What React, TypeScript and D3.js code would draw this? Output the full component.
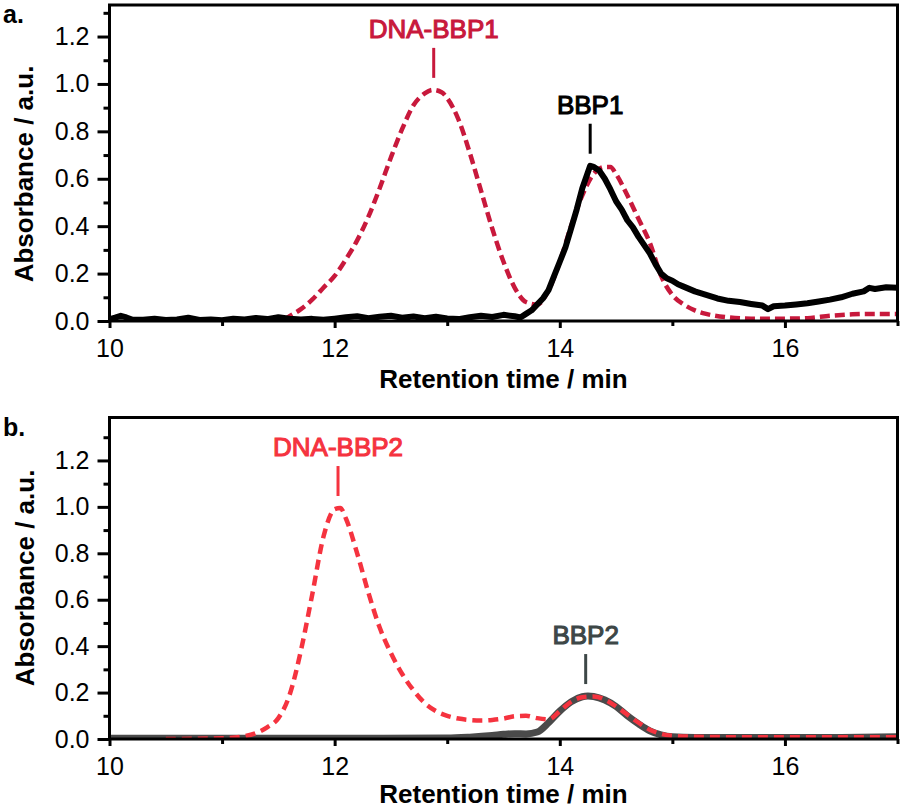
import React, { useRef, useEffect } from "react";
import * as d3 from "d3";

// ---- panel a: BBP1 (black, solid) and DNA-BBP1 (red, dashed)
const bbp1Time = [
  10.0, 10.05, 10.1, 10.15, 10.2, 10.3, 10.4, 10.5, 10.6, 10.7, 10.8, 10.9, 11.0, 11.1, 11.2, 11.3,
  11.4, 11.5, 11.6, 11.7, 11.8, 11.9, 12.0, 12.1, 12.2, 12.3, 12.4, 12.5, 12.6, 12.7, 12.8, 12.9,
  13.0, 13.1, 13.2, 13.3, 13.4, 13.5, 13.6, 13.65, 13.7, 13.75, 13.8, 13.85, 13.9, 13.95, 14.0,
  14.05, 14.1, 14.15, 14.2, 14.27, 14.3, 14.35, 14.4, 14.45, 14.5, 14.55, 14.6, 14.65, 14.7, 14.75,
  14.8, 14.85, 14.9, 14.95, 15.0, 15.05, 15.1, 15.2, 15.3, 15.4, 15.5, 15.6, 15.7, 15.8, 15.85,
  15.9, 16.0, 16.1, 16.2, 16.3, 16.4, 16.5, 16.6, 16.7, 16.75, 16.8, 16.9, 17.0,
];
const bbp1Abs = [
  0.008, 0.014, 0.022, 0.015, 0.006, 0.005, 0.01, 0.004, 0.006, 0.014, 0.004, 0.006, 0.003, 0.01,
  0.006, 0.013, 0.008, 0.016, 0.01, 0.006, 0.009, 0.005, 0.01, 0.016, 0.02, 0.012, 0.018, 0.022,
  0.014, 0.019, 0.012, 0.018, 0.011, 0.008, 0.016, 0.022, 0.017, 0.026, 0.02, 0.015, 0.03, 0.045,
  0.07, 0.095, 0.13, 0.19, 0.25, 0.31, 0.39, 0.47, 0.56, 0.655, 0.65, 0.635, 0.6, 0.555, 0.505,
  0.47, 0.425, 0.395, 0.355, 0.32, 0.285, 0.24, 0.2, 0.18, 0.17, 0.155, 0.145, 0.125, 0.11, 0.095,
  0.085, 0.08, 0.072, 0.065, 0.05, 0.062, 0.065, 0.07, 0.075, 0.082, 0.09, 0.1, 0.115, 0.125, 0.14,
  0.135, 0.142, 0.14,
];
const dnaBbp1Time = [
  11.55, 11.6, 11.7, 11.8, 11.9, 12.0, 12.1, 12.2, 12.3, 12.4, 12.5, 12.6, 12.7, 12.8, 12.87, 12.95,
  13.0, 13.1, 13.2, 13.3, 13.4, 13.5, 13.6, 13.7, 13.8, 13.9, 14.0, 14.1, 14.2, 14.3, 14.4, 14.45,
  14.5, 14.6, 14.7, 14.8, 14.9, 15.0, 15.1, 15.2, 15.3, 15.5, 15.7, 16.0, 16.2, 16.4, 16.6, 16.8, 17.0,
];
const dnaBbp1Abs = [
  0.005, 0.02, 0.05, 0.09, 0.14, 0.19, 0.26, 0.34, 0.44, 0.56, 0.69, 0.81, 0.91, 0.96, 0.975, 0.965,
  0.94, 0.85, 0.71, 0.55, 0.39, 0.25, 0.14, 0.08, 0.07, 0.13, 0.25, 0.4, 0.53, 0.62, 0.65, 0.65,
  0.62, 0.53, 0.43, 0.33, 0.19, 0.11, 0.07, 0.045, 0.03, 0.015, 0.01, 0.01, 0.012, 0.022, 0.028, 0.03,
  0.03,
];

// ---- panel b: BBP2 (grey, solid) and DNA-BBP2 (red, dashed)
const bbp2Time = [
  10.0, 11.0, 12.0, 13.0, 13.2, 13.4, 13.5, 13.6, 13.7, 13.8, 13.9, 14.0, 14.1, 14.2, 14.25, 14.3,
  14.4, 14.5, 14.6, 14.7, 14.8, 14.9, 15.0, 15.2, 16.0, 16.5, 17.0,
];
const bbp2Abs = [
  0.003, 0.003, 0.003, 0.004, 0.008, 0.015, 0.02, 0.023, 0.022, 0.03, 0.07, 0.12, 0.16, 0.182, 0.185,
  0.183, 0.168, 0.14, 0.1, 0.065, 0.035, 0.018, 0.01, 0.007, 0.006, 0.007, 0.01,
];
const dnaBbp2Time = [
  10.5, 11.0, 11.2, 11.3, 11.4, 11.5, 11.6, 11.7, 11.8, 11.9, 12.0, 12.05, 12.1, 12.2, 12.3, 12.4,
  12.5, 12.6, 12.7, 12.8, 12.9, 13.0, 13.1, 13.2, 13.3, 13.4, 13.5, 13.6, 13.7, 13.8, 13.9, 14.0,
  14.1, 14.2, 14.3, 14.4, 14.5, 14.6, 14.7, 14.8, 14.9, 15.0, 15.2, 15.5, 16.0, 16.5, 17.0,
];
const dnaBbp2Abs = [
  0.0, 0.003, 0.012, 0.025, 0.05, 0.09, 0.19, 0.38, 0.62, 0.87, 0.99, 0.995, 0.95, 0.8, 0.63, 0.48,
  0.37, 0.28, 0.21, 0.155, 0.12, 0.1, 0.088, 0.082, 0.08, 0.082, 0.088, 0.098, 0.1, 0.09, 0.085,
  0.12, 0.16, 0.18, 0.183, 0.17, 0.14, 0.105, 0.07, 0.04, 0.022, 0.014, 0.01, 0.008, 0.008, 0.008,
  0.008,
];

// ---- axes
const xDomain = [10, 17];
const xMajorTicks = [10, 12, 14, 16];
const xMinorTicks = [11, 13, 15, 17];
const yMajorTicks = [0, 0.2, 0.4, 0.6, 0.8, 1.0, 1.2];
const yMinorTicks = [0.1, 0.3, 0.5, 0.7, 0.9, 1.1, 1.3];

const FONT = "'Liberation Sans', Arial, sans-serif";
const LEFT = 109.5;
const RIGHT = 897.5;

interface Trace {
  time: number[];
  abs: number[];
  color: string;
  width: number;
  dash?: string;
  smooth: boolean;
}

interface Note {
  text: string;
  time: number;
  peak: number;
  color: string;
}

interface PanelProps {
  letter: string;
  top: number;
  bottom: number;
  yMax: number;
  yTitleX: number;
  yTitleY: number;
  xTitleY: number;
  traces: Trace[];
  notes: Note[];
}

const Panel: React.FC<PanelProps> = ({
  letter,
  top,
  bottom,
  yMax,
  yTitleX,
  yTitleY,
  xTitleY,
  traces,
  notes,
}) => {
  const gRef = useRef<SVGGElement>(null);

  useEffect(() => {
    const g = d3.select(gRef.current);
    g.selectAll("*").remove();

    const x = d3.scaleLinear().domain(xDomain).range([LEFT, RIGHT]);
    const y = d3.scaleLinear().domain([0, yMax]).range([bottom, top]);

    const clipId = `clip-${letter}`;
    g.append("clipPath")
      .attr("id", clipId)
      .append("rect")
      .attr("x", LEFT)
      .attr("y", top)
      .attr("width", RIGHT - LEFT)
      .attr("height", bottom - top);

    // traces
    traces.forEach((t) => {
      const line = d3
        .line<number>()
        .x((_, i) => x(t.time[i]))
        .y((d) => y(d))
        .curve(t.smooth ? d3.curveMonotoneX : d3.curveLinear);
      g.append("path")
        .datum(t.abs)
        .attr("clip-path", `url(#${clipId})`)
        .attr("d", line)
        .attr("fill", "none")
        .attr("stroke", t.color)
        .attr("stroke-width", t.width)
        .attr("stroke-linejoin", "round")
        .attr("stroke-dasharray", t.dash ?? null);
    });

    // y axis: major + minor ticks
    const yMajor = g
      .append("g")
      .attr("transform", `translate(${LEFT},0)`)
      .call(
        d3
          .axisLeft(y)
          .tickValues(yMajorTicks)
          .tickSize(12)
          .tickPadding(8)
          .tickFormat(d3.format(".1f"))
      );
    const yMinor = g
      .append("g")
      .attr("transform", `translate(${LEFT},0)`)
      .call(d3.axisLeft(y).tickValues(yMinorTicks).tickSize(6).tickFormat(() => ""));

    // x axis
    const xMajor = g
      .append("g")
      .attr("transform", `translate(0,${bottom})`)
      .call(
        d3
          .axisBottom(x)
          .tickValues(xMajorTicks)
          .tickSize(7)
          .tickPadding(11)
          .tickFormat(d3.format("d"))
      );
    const xMinor = g
      .append("g")
      .attr("transform", `translate(0,${bottom})`)
      .call(d3.axisBottom(x).tickValues(xMinorTicks).tickSize(5).tickFormat(() => ""));

    [yMajor, yMinor, xMajor, xMinor].forEach((a) => {
      a.select(".domain").remove();
      a.selectAll(".tick line").attr("stroke", "#000").attr("stroke-width", 3);
      a.attr("font-size", 25).attr("font-family", FONT);
      a.selectAll(".tick text").attr("fill", "#000");
    });

    // frame
    g.append("rect")
      .attr("x", LEFT)
      .attr("y", top)
      .attr("width", RIGHT - LEFT)
      .attr("height", bottom - top)
      .attr("fill", "none")
      .attr("stroke", "#000")
      .attr("stroke-width", 3);

    // peak annotations
    notes.forEach((n) => {
      const py = y(n.peak);
      g.append("line")
        .attr("x1", x(n.time))
        .attr("x2", x(n.time))
        .attr("y1", py - 12)
        .attr("y2", py - 42)
        .attr("stroke", n.color)
        .attr("stroke-width", 3);
      g.append("text")
        .attr("x", x(n.time))
        .attr("y", py - 52)
        .attr("text-anchor", "middle")
        .attr("font-family", FONT)
        .attr("font-size", 26)
        .attr("fill", n.color)
        .attr("stroke", n.color)
        .attr("stroke-width", 1.1)
        .text(n.text);
    });

    // axis titles
    g.append("text")
      .attr("transform", `translate(${yTitleX},${yTitleY}) rotate(-90)`)
      .attr("text-anchor", "middle")
      .attr("font-family", FONT)
      .attr("font-weight", "bold")
      .attr("font-size", 26)
      .text("Absorbance / a.u.");
    g.append("text")
      .attr("x", (LEFT + RIGHT) / 2)
      .attr("y", xTitleY)
      .attr("text-anchor", "middle")
      .attr("font-family", FONT)
      .attr("font-weight", "bold")
      .attr("font-size", 26)
      .text("Retention time / min");

    // panel letter
    g.append("text")
      .attr("x", 3)
      .attr("y", top + 18)
      .attr("font-family", FONT)
      .attr("font-weight", "bold")
      .attr("font-size", 25)
      .text(`${letter}.`);
  }, []);

  return <g ref={gRef}></g>;
};

const App: React.FC = () => {
  return (
    <svg
      width={904}
      height={808}
      style={{ position: "absolute", left: 0, top: 0, background: "#fff" }}
    >
      <Panel
        letter="a"
        top={5}
        bottom={321}
        yMax={1.333}
        yTitleX={33}
        yTitleY={174}
        xTitleY={388}
        traces={[
          { time: dnaBbp1Time, abs: dnaBbp1Abs, color: "#c8193c", width: 4.5, dash: "10 5", smooth: true },
          { time: bbp1Time, abs: bbp1Abs, color: "#000", width: 6, smooth: false },
        ]}
        notes={[
          { text: "DNA-BBP1", time: 12.88, peak: 0.975, color: "#c8193c" },
          { text: "BBP1", time: 14.27, peak: 0.655, color: "#000" },
        ]}
      />
      <Panel
        letter="b"
        top={417.5}
        bottom={739}
        yMax={1.385}
        yTitleX={34}
        yTitleY={578}
        xTitleY={803}
        traces={[
          { time: bbp2Time, abs: bbp2Abs, color: "#4a4a4a", width: 7, smooth: true },
          { time: dnaBbp2Time, abs: dnaBbp2Abs, color: "#f5333f", width: 4.5, dash: "10 6", smooth: true },
        ]}
        notes={[
          { text: "DNA-BBP2", time: 12.03, peak: 0.995, color: "#f5333f" },
          { text: "BBP2", time: 14.23, peak: 0.185, color: "#3d4747" },
        ]}
      />
    </svg>
  );
};

export default App;
